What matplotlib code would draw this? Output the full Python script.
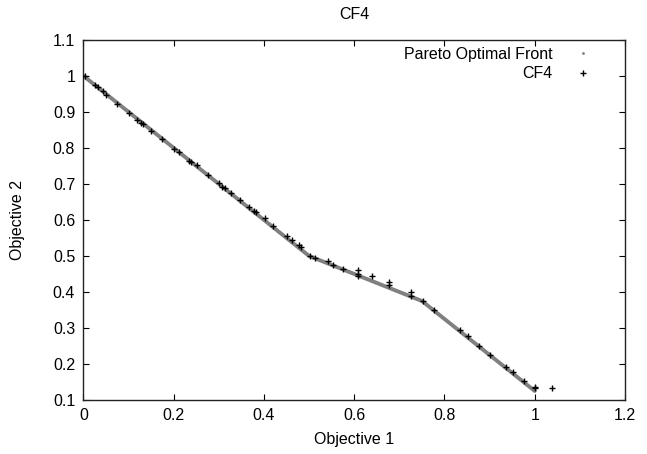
import matplotlib
matplotlib.use("Agg")
import matplotlib.pyplot as plt

plt.rcParams['font.family'] = ['Liberation Sans', 'DejaVu Sans']

# Pareto optimal front vertices
front_x = [0.0, 0.5, 0.75, 1.0]
front_y = [1.0, 0.5, 0.375, 0.125]

# CF4 solutions
cf4_x = [0.003, 0.025, 0.032, 0.044, 0.049, 0.075, 0.101, 0.119, 0.127, 0.131,
         0.149, 0.175, 0.201, 0.212, 0.234, 0.238, 0.252, 0.276, 0.300, 0.308,
         0.313, 0.326, 0.347, 0.367, 0.378, 0.383, 0.402, 0.419, 0.452, 0.463,
         0.478, 0.482, 0.501, 0.513, 0.541, 0.552, 0.576, 0.609, 0.609, 0.609,
         0.639, 0.676, 0.676, 0.726, 0.726, 0.752, 0.776, 0.835, 0.851, 0.877,
         0.901, 0.937, 0.952, 0.977, 1.001, 1.001, 1.039]
cf4_y = [1.000, 0.974, 0.968, 0.959, 0.948, 0.922, 0.897, 0.879, 0.869, 0.866,
         0.847, 0.825, 0.798, 0.789, 0.765, 0.762, 0.754, 0.726, 0.704, 0.692,
         0.688, 0.676, 0.656, 0.635, 0.625, 0.622, 0.605, 0.582, 0.555, 0.543,
         0.530, 0.524, 0.501, 0.494, 0.485, 0.476, 0.464, 0.460, 0.450, 0.443,
         0.443, 0.428, 0.419, 0.400, 0.389, 0.375, 0.351, 0.295, 0.277, 0.251,
         0.226, 0.191, 0.177, 0.152, 0.137, 0.132, 0.132]

x_ticks = [0, 0.2, 0.4, 0.6, 0.8, 1.0, 1.2]
x_labels = ['0', '0.2', '0.4', '0.6', '0.8', '1', '1.2']
y_ticks = [0.1, 0.2, 0.3, 0.4, 0.5, 0.6, 0.7, 0.8, 0.9, 1.0, 1.1]
y_labels = ['0.1', '0.2', '0.3', '0.4', '0.5', '0.6', '0.7', '0.8', '0.9', '1', '1.1']

FS = 11.5

fig = plt.figure(figsize=(6.47, 4.54), dpi=100)
ax = fig.add_axes([0.129, 0.119, 0.837, 0.793])

ax.plot(front_x, front_y, color='#808080', lw=2.8, solid_capstyle='round',
        solid_joinstyle='round', label='Pareto Optimal Front', zorder=2)
ax.plot(cf4_x, cf4_y, linestyle='none', marker='+', color='black',
        markersize=5, markeredgewidth=1.0, label='CF4', zorder=3)

ax.set_xlim(0, 1.2)
ax.set_ylim(0.1, 1.1)
ax.set_xticks(x_ticks)
ax.set_xticklabels(x_labels)
ax.set_yticks(y_ticks)
ax.set_yticklabels(y_labels)
ax.tick_params(direction='in', length=4, width=0.8, top=True, right=True,
               labelsize=FS, pad=6, colors='black')
for s in ax.spines.values():
    s.set_linewidth(1.0)
    s.set_color('#222222')

ax.set_xlabel('Objective 1', fontsize=FS, labelpad=6)
ax.set_ylabel('Objective 2', fontsize=FS, labelpad=20)
ax.set_title('CF4', fontsize=FS, pad=15)

leg = ax.legend(loc='upper right', frameon=False, fontsize=FS,
                markerfirst=False, handlelength=1.2, handletextpad=1.3,
                borderaxespad=0.2, labelspacing=0.3,
                bbox_to_anchor=(0.958, 1.008))
h0 = leg.legend_handles[0]
h0.set_linestyle('none')
h0.set_marker('.')
h0.set_markersize(2)
h0.set_color('#808080')

fig.savefig('out.png', dpi=100)
